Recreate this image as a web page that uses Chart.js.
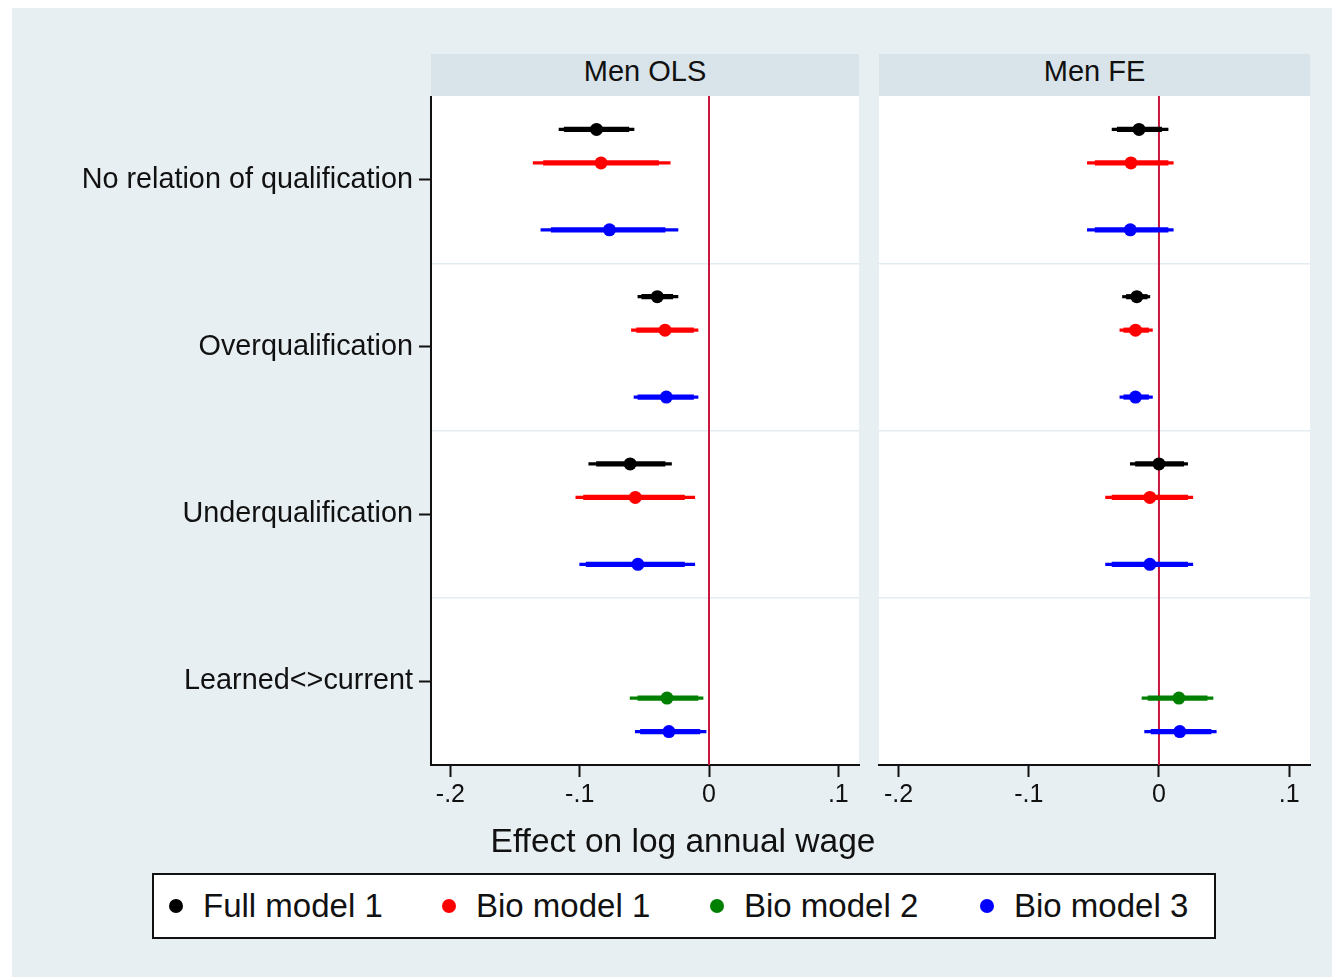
<!DOCTYPE html>
<html>
<head>
<meta charset="utf-8">
<title>Effect on log annual wage – Men OLS / Men FE</title>
<script src="https://cdn.jsdelivr.net/npm/chart.js@4.4.1/dist/chart.umd.min.js"></script>
<style>
  html, body { margin: 0; padding: 0; background: #ffffff; }
  body { width: 1332px; height: 977px; position: relative; overflow: hidden;
         font-family: "Liberation Sans", Arial, sans-serif; color: #111; }
  .graph-bg { position: absolute; left: 12px; top: 8px; width: 1320px; height: 969px; background: #e8eff2; }
  .strip { position: absolute; top: 54px; height: 42px; background: #d9e4ea;
           font-size: 29px; line-height: 34px; text-align: center; }
  .plot-bg { position: absolute; top: 96px; height: 669px; background: #ffffff; }
  canvas { position: absolute; }
  .xtitle { position: absolute; left: 383px; width: 600px; top: 822px; font-size: 33.5px;
            text-align: center; line-height: 38px; }
  .legend { position: absolute; left: 152px; top: 873px; width: 1060px; height: 62px;
            border: 2px solid #111; background: #ffffff; }
  .legend .item { position: absolute; top: 0; height: 62px; line-height: 62px; font-size: 33px; white-space: nowrap; }
  .legend .dot { position: absolute; width: 14px; height: 14px; border-radius: 50%; top: 24px; }
  .legend .lbl { position: absolute; top: 0; }
</style>
</head>
<body>
<div class="graph-bg"></div>
<div class="strip" style="left:431px;width:428px;">Men OLS</div>
<div class="strip" style="left:879px;width:431px;">Men FE</div>
<div class="plot-bg" style="left:431px;width:428px;"></div>
<div class="plot-bg" style="left:879px;width:431px;"></div>
<canvas id="ols" width="872" height="730" style="left:0px;top:96px;"></canvas>
<canvas id="fe" width="460" height="730" style="left:872px;top:96px;"></canvas>
<div class="xtitle">Effect on log annual wage</div>
<div class="legend" id="legend"></div>

<script>
// ---- categories, models and axis ticks ----
const categories = ['No relation of qualification', 'Overqualification', 'Underqualification', 'Learned<>current'];
const models = ['Full model 1', 'Bio model 1', 'Bio model 2', 'Bio model 3'];
const xTickValues = [-0.2, -0.1, 0, 0.1];
const xTickLabels = ['-.2', '-.1', '0', '.1'];
const referenceLine = [0];

// ---- OLS: rows = models, columns = categories ----
const olsEstimate = [
  [-0.087, -0.040, -0.061, null],
  [-0.0835, -0.034, -0.057, null],
  [null, null, null, -0.0325],
  [-0.077, -0.033, -0.055, -0.031]
];
const olsLow99 = [
  [-0.116, -0.055, -0.093, null],
  [-0.136, -0.060, -0.103, null],
  [null, null, null, -0.061],
  [-0.130, -0.058, -0.100, -0.057]
];
const olsHigh99 = [
  [-0.058, -0.024, -0.029, null],
  [-0.030, -0.0085, -0.011, null],
  [null, null, null, -0.0046],
  [-0.024, -0.0085, -0.011, -0.0023]
];
const olsLow95 = [
  [-0.112, -0.052, -0.087, null],
  [-0.128, -0.056, -0.097, null],
  [null, null, null, -0.055],
  [-0.122, -0.055, -0.095, -0.053]
];
const olsHigh95 = [
  [-0.062, -0.028, -0.034, null],
  [-0.039, -0.012, -0.019, null],
  [null, null, null, -0.0085],
  [-0.034, -0.012, -0.019, -0.007]
];

// ---- FE: rows = models, columns = categories ----
const feEstimate = [
  [-0.0153, -0.017, 0.000, null],
  [-0.0215, -0.018, -0.007, null],
  [null, null, null, 0.0153],
  [-0.022, -0.018, -0.007, 0.016]
];
const feLow99 = [
  [-0.036, -0.028, -0.022, null],
  [-0.055, -0.030, -0.041, null],
  [null, null, null, -0.013],
  [-0.055, -0.030, -0.041, -0.011]
];
const feHigh99 = [
  [0.007, -0.007, 0.022, null],
  [0.011, -0.005, 0.026, null],
  [null, null, null, 0.0415],
  [0.011, -0.005, 0.026, 0.044]
];
const feLow95 = [
  [-0.032, -0.025, -0.018, null],
  [-0.049, -0.027, -0.036, null],
  [null, null, null, -0.0084],
  [-0.049, -0.027, -0.036, -0.006]
];
const feHigh95 = [
  [0.002, -0.009, 0.019, null],
  [0.007, -0.008, 0.022, null],
  [null, null, null, 0.037],
  [0.007, -0.008, 0.022, 0.040]
];

// ---- styling / layout ----
const modelColors = ['#000000', '#ff0000', '#008000', '#0000ff'];
const modelOffsets = [-0.3, -0.1, 0.1, 0.3];   // vertical shift of each model inside a category
const X_MIN = -0.215, X_MAX = 0.116;
const Y_MIN = 0.5, Y_MAX = 4.5;
const separators = [1.5, 2.5, 3.5];
const FONT = '"Liberation Sans", Arial, sans-serif';

Chart.defaults.font.family = FONT;
Chart.defaults.color = '#111';

function rowPos(c, m) { return c + 1 + modelOffsets[m]; }

function buildDatasets(est, lo99, hi99, lo95, hi95) {
  const sets = [];
  models.forEach((name, m) => {
    const pts = [], outer = [], inner = [];
    categories.forEach((cat, c) => {
      if (est[m][c] === null) return;
      const y = rowPos(c, m);
      pts.push({ x: est[m][c], y });
      outer.push({ y, x: [lo99[m][c], hi99[m][c]] });
      inner.push({ y, x: [lo95[m][c], hi95[m][c]] });
    });
    sets.push({ type: 'scatter', label: name, data: pts, order: 0,
      pointRadius: 6.5, pointHoverRadius: 6.5, pointStyle: 'circle',
      backgroundColor: modelColors[m], borderWidth: 0 });
    sets.push({ type: 'bar', indexAxis: 'y', label: name + ' CI', data: inner, order: 1,
      grouped: false, barThickness: 4.5, backgroundColor: modelColors[m], borderWidth: 0 });
    sets.push({ type: 'bar', indexAxis: 'y', label: name + ' CI wide', data: outer, order: 2,
      grouped: false, barThickness: 2.5, backgroundColor: modelColors[m], borderWidth: 0 });
  });
  referenceLine.forEach(v => {
    sets.push({ type: 'line', label: 'zero', order: 3,
      data: [{ x: v, y: Y_MIN }, { x: v, y: Y_MAX }],
      borderColor: '#c8163e', borderWidth: 2, pointRadius: 0, fill: false });
  });
  return sets;
}

function makeChart(id, datasets, showLabels, leftWidth, rightPad) {
  return new Chart(document.getElementById(id), {
    type: 'scatter',
    data: { datasets },
    options: {
      responsive: false,
      animation: false,
      devicePixelRatio: 1,
      layout: { autoPadding: false, padding: { left: 0, right: rightPad, top: 0, bottom: 0 } },
      plugins: { legend: { display: false }, tooltip: { enabled: false } },
      events: [],
      scales: {
        x: {
          type: 'linear', axis: 'x', position: 'bottom',
          min: X_MIN, max: X_MAX, offset: false,
          afterBuildTicks: s => { s.ticks = xTickValues.map(v => ({ value: v })); },
          afterFit: s => { s.height = 61; s.paddingLeft = 0; s.paddingRight = 0; },
          ticks: {
            callback: (v, i) => xTickLabels[i],
            font: { size: 25 }, color: '#111', padding: 3, maxRotation: 0, autoSkip: false
          },
          grid: { drawOnChartArea: false, drawTicks: true, tickLength: 12, tickWidth: 2, tickColor: '#111' },
          border: { display: true, color: '#111', width: 2 }
        },
        y: {
          type: 'linear', axis: 'y', position: 'left', reverse: true,
          min: Y_MIN, max: Y_MAX, offset: false, display: showLabels,
          afterBuildTicks: s => { s.ticks = categories.map((c, i) => ({ value: i + 1 })); },
          afterFit: s => { s.width = leftWidth; s.paddingTop = 0; s.paddingBottom = 0; },
          ticks: {
            callback: (v, i) => categories[i],
            font: { size: 28.8 }, color: '#111', padding: 6, autoSkip: false
          },
          grid: { drawOnChartArea: false, drawTicks: true, tickLength: 12, tickWidth: 2, tickColor: '#111', offset: false },
          border: { display: true, color: '#111', width: 2 }
        },
        ySep: {
          type: 'linear', axis: 'y', position: 'right', reverse: true,
          min: Y_MIN, max: Y_MAX, offset: false,
          afterBuildTicks: s => { s.ticks = separators.map(v => ({ value: v })); },
          afterFit: s => { s.width = 0; s.paddingTop = 0; s.paddingBottom = 0; },
          ticks: { display: false },
          grid: { drawOnChartArea: true, drawTicks: false, color: '#e3ecf0', lineWidth: 1.5 },
          border: { display: false }
        }
      }
    }
  });
}

makeChart('ols', buildDatasets(olsEstimate, olsLow99, olsHigh99, olsLow95, olsHigh95), true, 431, 13);
makeChart('fe', buildDatasets(feEstimate, feLow99, feHigh99, feLow95, feHigh95), false, 7, 22);

// legend built from the model list
const legend = document.getElementById('legend');
const legendX = [15, 288, 556, 826];
models.forEach((name, m) => {
  const item = document.createElement('div');
  item.className = 'item';
  item.style.left = legendX[m] + 'px';
  item.innerHTML = '<span class="dot" style="left:0;background:' + modelColors[m] + '"></span>' +
                   '<span class="lbl" style="left:34px">' + name + '</span>';
  legend.appendChild(item);
});
</script>
</body>
</html>
